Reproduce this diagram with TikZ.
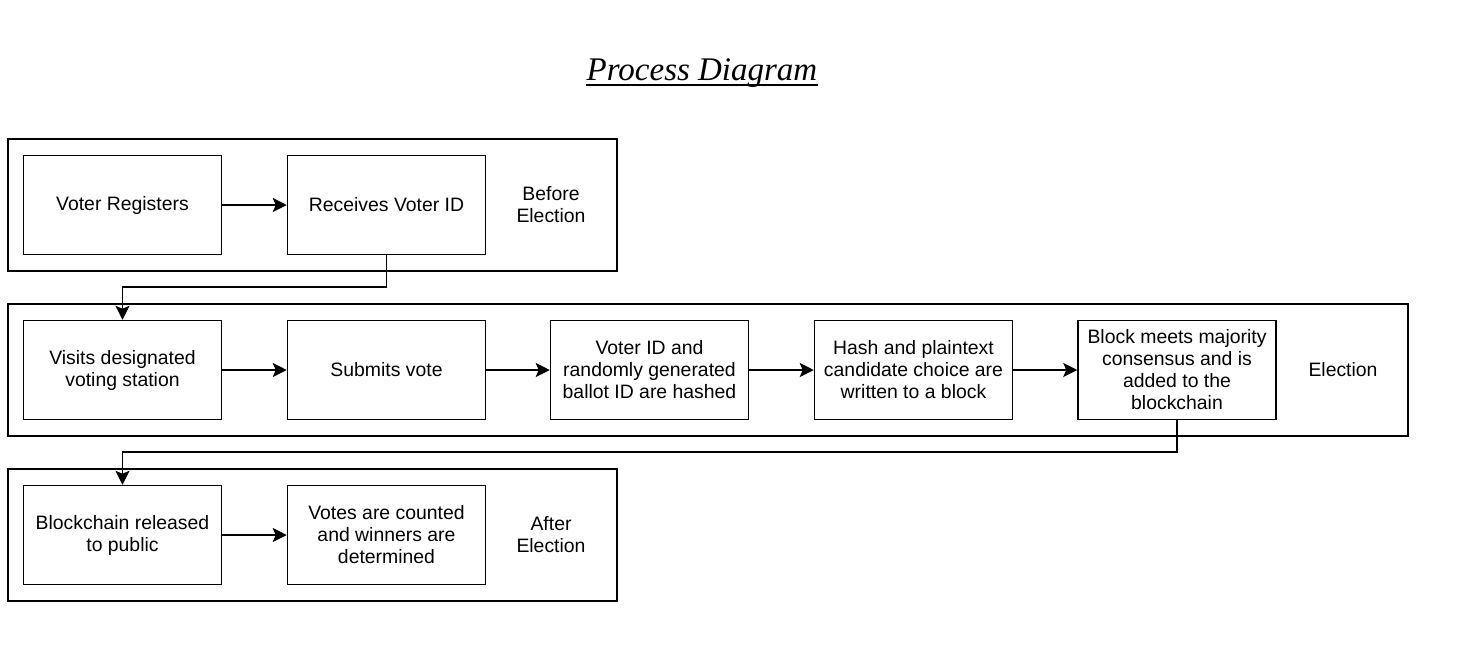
\documentclass[tikz,border=0pt]{standalone}
\usepackage{fontspec}
\setmainfont{Liberation Sans}
\newfontfamily\titlefont{Liberation Serif}
\usetikzlibrary{arrows.meta}
\begin{document}
\begin{tikzpicture}[x=0.5pt,y=-0.5pt,
  grp/.style={draw, line width=0.8pt, inner sep=0pt, minimum height=66pt},
  box/.style={draw, line width=0.75pt, minimum width=99pt, minimum height=49.5pt,
    inner sep=0pt, align=center, font=\fontsize{9.7}{11}\selectfont},
  lbl/.style={align=center, inner sep=0pt, font=\fontsize{9.7}{11}\selectfont},
  arr/.style={-{Stealth[length=7pt,width=7pt,inset=1.5pt]}, line width=0.75pt}]
\useasboundingbox (0,0) rectangle (1470,671);
% title
\node[anchor=base, inner sep=0pt] (title) at (702,80)
  {\titlefont\fontsize{16.5}{18}\selectfont\textit{Process Diagram}};
\draw[line width=1pt] ([yshift=-2.6pt]title.base west) -- ([yshift=-2.6pt]title.base east);
% groups
\node[grp, minimum width=304.5pt] (g1) at (312.5,205) {};
\node[grp, minimum width=700pt] (g2) at (708,370) {};
\node[grp, minimum width=304.5pt] (g3) at (312.5,535) {};
% before election
\node[box] (reg) at (122.5,205) {Voter Registers};
\node[box] (rec) at (386.5,205) {Receives Voter ID};
\node[lbl] (l1) at (551,205) {Before\\Election};
% election
\node[box] (vis) at (122.5,370) {Visits designated\\voting station};
\node[box] (sub) at (386.5,370) {Submits vote};
\node[box] (hsh) at (649.5,370) {Voter ID and\\randomly generated\\ballot ID are hashed};
\node[box] (wrt) at (913.5,370) {Hash and plaintext\\candidate choice are\\written to a block};
\node[box] (blk) at (1177,370) {Block meets majority\\consensus and is\\added to the\\blockchain};
\node[lbl] (l2) at (1343,370) {Election};
% after election
\node[box] (pub) at (122.5,535) {Blockchain released\\to public};
\node[box] (cnt) at (386.5,535) {Votes are counted\\and winners are\\determined};
\node[lbl] (l3) at (551,535) {After\\Election};
% connectors
\draw[arr] (reg) -- (rec);
\draw[arr] (rec.south) -- (rec.south |- 0,287) -| (vis.north);
\draw[arr] (vis) -- (sub);
\draw[arr] (sub) -- (hsh);
\draw[arr] (hsh) -- (wrt);
\draw[arr] (wrt) -- (blk);
\draw[arr] (blk.south) -- (blk.south |- 0,452) -| (pub.north);
\draw[arr] (pub) -- (cnt);
\end{tikzpicture}
\end{document}
